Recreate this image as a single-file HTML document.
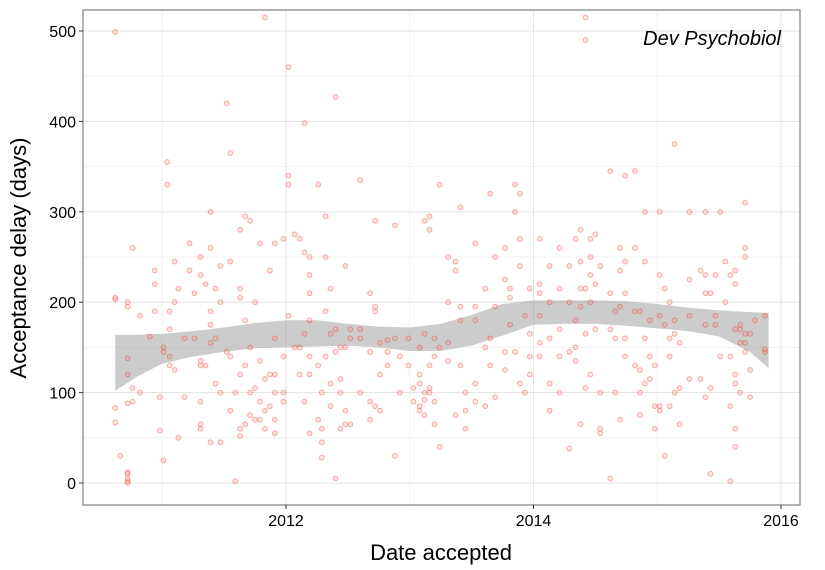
<!DOCTYPE html>
<html><head><meta charset="utf-8">
<style>
body{margin:0;background:#fff;}
svg{display:block;font-family:"Liberation Sans",sans-serif;}
</style></head>
<body>
<svg id="chart" width="825" height="570"></svg>
<script>
const groupDates=[2010.62,2010.66,2010.72,2010.76,2010.82,2010.90,2010.94,2010.98,2011.01,2011.04,2011.06,2011.10,2011.13,2011.18,2011.22,2011.26,2011.31,2011.35,2011.39,2011.43,2011.47,2011.52,2011.55,2011.59,2011.63,2011.67,2011.71,2011.75,2011.79,2011.83,2011.87,2011.91,2011.98,2012.02,2012.07,2012.11,2012.15,2012.19,2012.26,2012.29,2012.32,2012.36,2012.40,2012.44,2012.48,2012.52,2012.60,2012.68,2012.72,2012.76,2012.82,2012.88,2012.92,2012.99,2013.03,2013.08,2013.12,2013.16,2013.20,2013.24,2013.31,2013.37,2013.41,2013.45,2013.53,2013.61,2013.65,2013.69,2013.77,2013.81,2013.85,2013.89,2013.93,2013.97,2014.05,2014.13,2014.21,2014.29,2014.34,2014.38,2014.42,2014.46,2014.50,2014.54,2014.62,2014.66,2014.70,2014.74,2014.82,2014.86,2014.90,2014.94,2014.98,2015.02,2015.06,2015.10,2015.14,2015.18,2015.26,2015.35,2015.39,2015.43,2015.47,2015.51,2015.55,2015.59,2015.63,2015.67,2015.71,2015.75,2015.79,2015.87];
const groupDelays=[[499,205,203,83,67],[30],[200,195,138,120,88,12,5,0,2,10],[260,105,90],[100,185],[162],[235,220,190],[95,58],[150,145,25],[355,330],[190,170,140,130],[245,200,125],[50,215],[95,160],[235,265],[160,210],[250,230,135,130,90,65,60],[130,220],[45,300,190,260,175,155],[215,160,110],[240,200,45,100],[420,145],[365,245,140,80],[2,100],[205,215,280,60,52,120],[295,180,130,65],[290,150,100,75],[200,70,105],[265,135,70,90],[515,115,80,60],[235,85,120],[265,160,70,55,120,100],[270,140,100,90],[460,340,330,185],[275,150],[150,120,270],[398,255,165,90],[250,230,210,180,140,55,120],[330,130,70],[60,45,28,100],[295,250,190,140],[215,165,110,85],[5,427,170,145],[150,100,115,60],[240,65,80,150],[170,160,65],[335,170,160,100],[210,145,70,90],[290,195,190,85],[155,120,80],[158,130,145],[30,285,160],[140,100],[160,130],[90,105],[150,120,110,85,80],[290,165,100,92,75],[295,280,130,105,100],[160,140,90,65],[330,150,40],[250,200,155,135],[245,235,75],[305,180,195,130],[100,80,60],[265,195,180,110,90],[215,150,85],[320,160,130],[250,195,95],[260,225,145,125],[215,205,175],[330,300,145],[320,270,240,110],[185,100],[215,165,140,120],[270,220,210,185,140,155],[240,200,160,110,80],[260,215,170,140,100],[240,200,38,145],[270,180,135,150],[280,245,215,195,65],[515,490,215,165,105],[270,250,230,200,120],[275,220,170],[100,55,60,240],[345,210,170,5],[160,190,100],[260,235,195,70],[340,245,210,160,140],[345,260,190,130],[190,125,100,75],[300,245,160,110],[180,140,115],[130,85,60],[300,230,185,80,85],[215,175,30],[200,160,140,85],[375,180,165,100],[155,105,65],[300,225,185,115],[235,115],[300,230,210,175,95],[210,10,105],[230,185,175],[300,140],[200,245],[230,140,85,2],[235,220,170,120,110,40,60],[175,170,155,100],[310,250,260,165,145,155],[165,125,95],[180],[185,145,148]];
const bandX=[2010.62,2010.8,2011.0,2011.25,2011.5,2011.75,2012.0,2012.25,2012.5,2012.75,2013.0,2013.25,2013.5,2013.75,2014.0,2014.25,2014.5,2014.75,2015.0,2015.25,2015.5,2015.75,2015.9];
const bandLow=[102,118,132,140,145,149,150,151,152,150,146,146,152,163,175,176,176,174,171,168,162,145,127];
const bandHigh=[164,164,165,168,172,177,180,180,176,173,172,176,186,198,202,202,202,201,198,194,191,189,188];
const yTicks=[0,100,200,300,400,500];
const xTicks=[2012,2014,2016];

const L=83,R=800,T=10,B=505;
const X=d=>286+(d-2012)*123.75;
const Y=v=>483-v*0.904;
const svg=document.getElementById('chart');
const NS='http://www.w3.org/2000/svg';
function mk(tag,attrs,parent){const e=document.createElementNS(NS,tag);for(const k in attrs)e.setAttribute(k,attrs[k]);(parent||svg).appendChild(e);return e;}

const panel=mk('rect',{x:L,y:T,width:R-L,height:B-T,fill:'#fff'});


const grid=mk('g',{});


for(let v=50;v<=500;v+=100){mk('line',{x1:L,x2:R,y1:Y(v),y2:Y(v),stroke:'#f2f2f2','stroke-width':1},grid);}
[2011,2013,2015].forEach(d=>mk('line',{x1:X(d),x2:X(d),y1:T,y2:B,stroke:'#f2f2f2','stroke-width':1},grid));
yTicks.forEach(v=>mk('line',{x1:L,x2:R,y1:Y(v),y2:Y(v),stroke:'#e5e5e5','stroke-width':1.1},grid));
xTicks.forEach(d=>mk('line',{x1:X(d),x2:X(d),y1:T,y2:B,stroke:'#e5e5e5','stroke-width':1.1},grid));

let p='M'+bandX.map((d,i)=>X(d)+','+Y(bandHigh[i])).join(' L');
for(let i=bandX.length-1;i>=0;i--)p+=' L'+X(bandX[i])+','+Y(bandLow[i]);
const band=mk('path',{d:p+'Z',fill:'#999','fill-opacity':0.5});



const pts=mk('g',{});


groupDates.forEach((d,i)=>groupDelays[i].forEach(v=>{
  const c=mk('circle',{cx:X(d),cy:Y(v),r:2.4,fill:'#f8766d','fill-opacity':0.2,stroke:'#f03020','stroke-opacity':0.38,'stroke-width':1},pts);
  
  
}));

const border=mk('rect',{x:L,y:T,width:R-L,height:B-T,fill:'none',stroke:'#7f7f7f','stroke-width':1.2});



yTicks.forEach(v=>{
  mk('line',{x1:L-4,x2:L,y1:Y(v),y2:Y(v),stroke:'#333'});
  const t=mk('text',{x:L-7,y:Y(v)+6,'text-anchor':'end','font-size':16,fill:'#000'});
  t.textContent=v;
  
  
});
xTicks.forEach(d=>{
  mk('line',{x1:X(d),x2:X(d),y1:B,y2:B+4,stroke:'#333'});
  const t=mk('text',{x:X(d),y:B+21,'text-anchor':'middle','font-size':16,fill:'#000'});
  t.textContent=d;
  
  
});
const xt=mk('text',{x:441,y:560,'text-anchor':'middle','font-size':22,fill:'#000'});
xt.textContent='Date accepted';


const yt=mk('text',{x:0,y:0,'text-anchor':'middle','font-size':22,fill:'#000',transform:'translate(26,258) rotate(-90)'});
yt.textContent='Acceptance delay (days)';


const an=mk('text',{x:781,y:45,'text-anchor':'end','font-size':20,'font-style':'italic',fill:'#000'});
an.textContent='Dev Psychobiol';


</script>
</body></html>
